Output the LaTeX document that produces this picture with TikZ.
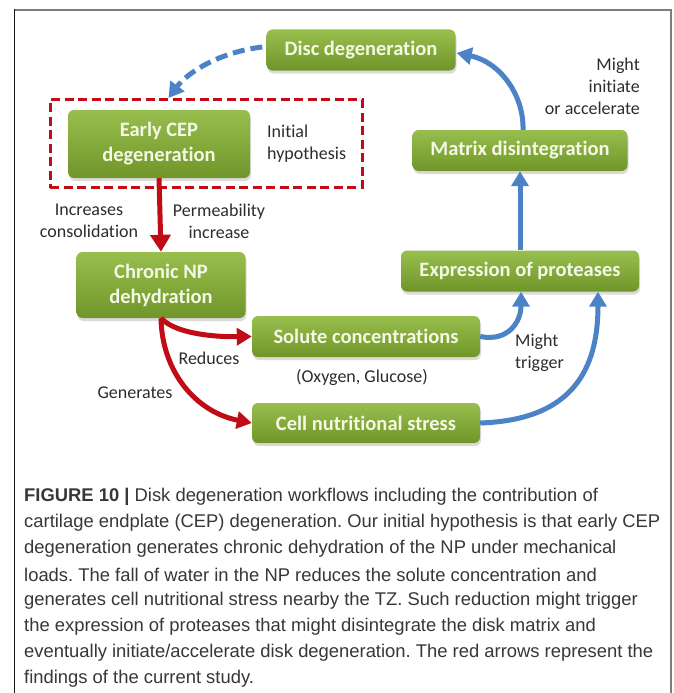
\documentclass[tikz,border=0pt]{standalone}
\usepackage{fontspec}
\setmainfont{Carlito}[Ligatures={NoCommon}]
\newfontfamily\capfont{Liberation Sans}
\usetikzlibrary{arrows.meta,shadows,calc}
\definecolor{gtop}{RGB}{152,190,78}
\definecolor{gbot}{RGB}{112,150,42}
\definecolor{gtext}{RGB}{244,248,228}
\definecolor{redA}{RGB}{192,12,22}
\definecolor{blueA}{RGB}{76,130,198}
\definecolor{txt}{RGB}{45,45,45}
\definecolor{captxt}{RGB}{55,55,55}
\definecolor{frameL}{RGB}{25,25,25}
\definecolor{frameT}{RGB}{125,125,125}
\frenchspacing
\begin{document}
\begin{tikzpicture}[x=1pt,y=-1pt,
  gbox/.style={rounded corners=6pt, top color=gtop, bottom color=gbot, text=gtext,
    font=\fontsize{20.5}{25}\selectfont\bfseries, align=center, inner sep=0pt,
    drop shadow={opacity=0.28, shadow xshift=1pt, shadow yshift=-3pt}},
  lbl/.style={text=txt, font=\fontsize{18}{22}\selectfont, align=center, inner sep=0pt},
  redarr/.style={draw=redA, line width=5pt, -{Triangle[length=15pt,width=17pt]}},
  bluearr/.style={draw=blueA, line width=5pt, -{Triangle[length=15pt,width=17pt]}},
  capline/.style={anchor=west, text=captxt, font=\capfont\fontsize{18.4}{22}\selectfont, inner sep=0pt}]

\useasboundingbox (0,0) rectangle (673,693);
\fill[white] (0,0) rectangle (673,693);

% frame
\draw[frameT, line width=1.6pt] (14.5,10) -- (671,10) -- (671,693);
\draw[frameL, line width=1.6pt] (14.5,693) -- (14.5,9.2);

% hypothesis dashed box
\node[draw=redA, line width=3pt, dash pattern=on 9pt off 4.5pt, minimum width=312pt, minimum height=88pt, inner sep=0pt] (hyp) at (206,143.5) {};

% boxes
\node[gbox, minimum width=189pt, minimum height=41pt] (disc) at (361,50) {Disc degeneration};
\node[gbox, minimum width=182pt, minimum height=68pt] (cep) at (159,144) {Early CEP\\degeneration};
\node[gbox, minimum width=169pt, minimum height=66pt] (np) at (161,285) {Chronic NP\\dehydration};
\node[gbox, minimum width=228pt, minimum height=41pt] (sol) at (366,336.5) {Solute concentrations};
\node[gbox, minimum width=228pt, minimum height=40pt] (cell) at (366,423) {Cell nutritional stress};
\node[gbox, minimum width=238pt, minimum height=41pt] (expr) at (520,271) {Expression of proteases};
\node[gbox, minimum width=215pt, minimum height=41pt] (mat) at (520,150.5) {Matrix disintegration};

% labels
\node[lbl, align=left, anchor=west] (ini) at (267,144) {Initial\\hypothesis};
\node[lbl] (inc) at (89,221) {Increases\\consolidation};
\node[lbl] (perm) at (219,221) {Permeability\\increase};
\node[lbl] (red) at (209,358) {Reduces};
\node[lbl] (gen) at (135,393) {Generates};
\node[lbl] (oxy) at (362,377) {(Oxygen, Glucose)};
\node[lbl, align=left, anchor=west] (trig) at (515,353) {Might\\trigger};
\node[lbl, align=right, anchor=east] (acc) at (640,86) {Might\\initiate\\or accelerate};

% red arrows
\draw[redarr, -{Triangle[length=17pt,width=20pt]}] (cep.south) -- (np.north);
\draw[redarr] (np.south) .. controls (176,334) and (215,337) .. (sol.west);
\draw[redarr] (np.south) .. controls (162,372) and (196,412) .. (cell.west);

% blue arrows
\draw[bluearr] (expr.north) -- (mat.south);
\draw[bluearr] (sol.east) .. controls (508,342) and (521,322) .. ($(expr.south)+(1,0)$);
\draw[bluearr] (cell.east) .. controls (572,420) and (598,370) .. ($(expr.south)+(78,0)$);
\draw[bluearr] ($(mat.north)+(3,0)$) .. controls (524,95) and (500,62) .. ($(disc.east)+(1,3)$);
\draw[bluearr, dash pattern=on 12pt off 6pt] ($(disc.west)+(-4,-3)$) .. controls (220,52) and (188,72) .. ($(hyp.north west)+(120,0)$);

% caption
\node[capline] (c1) at (24,497) {\textbf{FIGURE 10 |} Disk degeneration workflows including the contribution of};
\node[capline] (c2) at (24,523) {cartilage endplate (CEP) degeneration. Our initial hypothesis is that early CEP};
\node[capline] (c3) at (24,549) {degeneration generates chronic dehydration of the NP under mechanical};
\node[capline] (c4) at (24,575) {loads. The fall of water in the NP reduces the solute concentration and};
\node[capline] (c5) at (24,601) {generates cell nutritional stress nearby the TZ. Such reduction might trigger};
\node[capline] (c6) at (24,627) {the expression of proteases that might disintegrate the disk matrix and};
\node[capline] (c7) at (24,653) {eventually initiate/accelerate disk degeneration. The red arrows represent the};
\node[capline] (c8) at (24,679) {findings of the current study.};
\end{tikzpicture}
\end{document}
